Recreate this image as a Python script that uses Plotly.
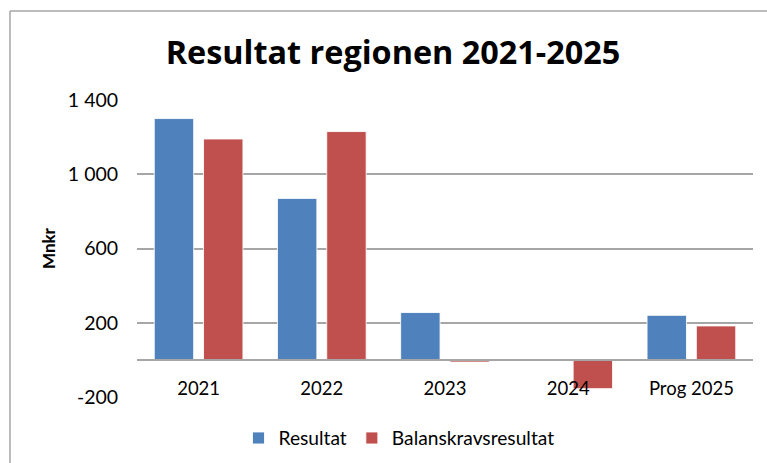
import plotly.graph_objects as go

categories = ["2021", "2022", "2023", "2024", "Prog 2025"]
resultat = [1300, 870, 255, -3, 240]
balanskrav = [1190, 1230, -12, -155, 183]
y_tickvals = [-200, 200, 600, 1000, 1400]
y_ticktext = ["-200", "200", "600", "1 000", "1 400"]

W, H = 767, 463
L, R, T, B = 137, 14, 100, 66
pw = W - L - R
ph = H - T - B

def px_x(x):
    return (x - L) / pw

def px_y(y):
    return (H - B - y) / ph

FONT = "Lato"
GRID = "#A6A6A6"

fig = go.Figure()
fig.add_trace(go.Bar(
    name="Resultat", x=categories, y=resultat,
    marker=dict(color="#4F81BD", line=dict(color="rgba(255,255,255,0.85)", width=1)),
))
fig.add_trace(go.Bar(
    name="Balanskravsresultat", x=categories, y=balanskrav,
    marker=dict(color="#C0504D", line=dict(color="rgba(255,255,255,0.85)", width=1)),
))

fig.update_layout(
    width=W, height=H,
    margin=dict(l=L, r=R, t=T, b=B, autoexpand=False),
    paper_bgcolor="white", plot_bgcolor="white",
    barmode="group", bargap=0.2, bargroupgap=0.2,
    font=dict(family=FONT, color="#000000", size=18),
    title=dict(
        text="<b>Resultat regionen 2021-2025</b>",
        font=dict(family="Open Sans", size=32.4, color="#000000"),
        x=px_x(393), xref="paper", xanchor="center",
        y=1 - 53 / H, yref="container", yanchor="middle",
    ),
    showlegend=True,
    legend=dict(
        orientation="h", x=px_x(399), xanchor="center",
        y=px_y(438), yanchor="middle",
        font=dict(family=FONT, size=19.2),
        itemwidth=30, traceorder="normal",
    ),
    xaxis=dict(
        anchor="free", position=200 / 1600, automargin=False,
        showline=True, linecolor=GRID, linewidth=2,
        showgrid=False,
        ticks="outside", ticklen=12, tickcolor="rgba(0,0,0,0)",
        tickfont=dict(family=FONT, size=18.5),
    ),
    yaxis=dict(
        range=[-200, 1400], automargin=False,
        tickvals=y_tickvals, ticktext=y_ticktext,
        showgrid=True, gridcolor=GRID, gridwidth=2,
        zeroline=False, showline=False,
        ticks="outside", ticklen=14, tickcolor="rgba(0,0,0,0)",
        tickfont=dict(family=FONT, size=19.5),
        title=dict(text="<b>Mnkr</b>", font=dict(family=FONT, size=17), standoff=7),
    ),
    shapes=[
        dict(type="line", xref="paper", yref="paper",
             x0=px_x(10), x1=px_x(10), y0=px_y(470), y1=px_y(11),
             line=dict(color="#A6A6A6", width=1.5)),
        dict(type="line", xref="paper", yref="paper",
             x0=px_x(10), x1=px_x(780), y0=px_y(11), y1=px_y(11),
             line=dict(color="#A6A6A6", width=1.5)),
    ],
)

fig.write_html(
    "out.html",
    config={"displayModeBar": False},
    post_script="document.body.style.margin='0';document.body.style.overflow='hidden';",
)
